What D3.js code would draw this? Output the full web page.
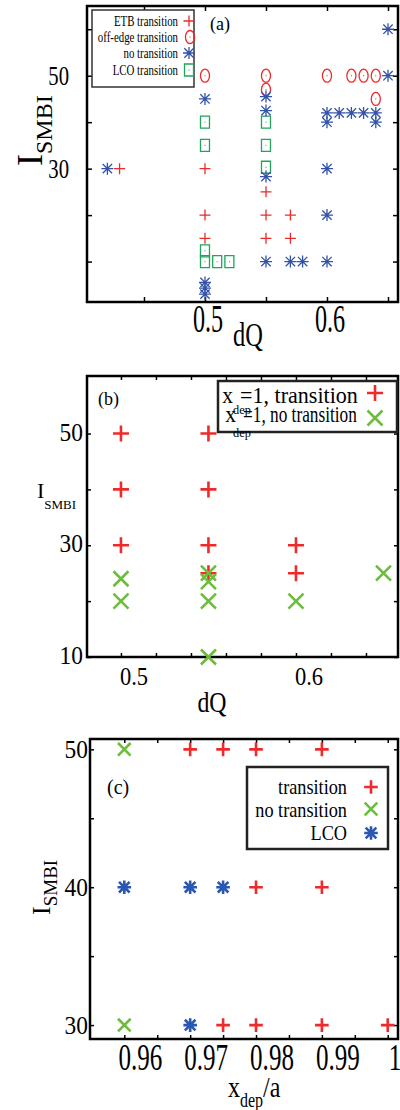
<!DOCTYPE html>
<html><head><meta charset="utf-8">
<script src="https://cdn.jsdelivr.net/npm/d3@7"></script>
<style>body{margin:0;background:#fff}svg{display:block}</style>
</head><body><svg id="c" width="400" height="1110" font-family="Liberation Serif, DejaVu Serif, serif"></svg>
<script>
// ===== Panel (a) data: dQ vs I_SMBI =====
const aEtbDQ = [0.43, 0.5, 0.5, 0.5, 0.55, 0.55, 0.55, 0.57, 0.57];
const aEtbI  = [30, 30, 20, 15, 25, 20, 15, 20, 15];
const aOffDQ = [0.5, 0.55, 0.55, 0.6, 0.62, 0.63, 0.64, 0.64];
const aOffI  = [50, 50, 47, 50, 50, 50, 50, 45];
const aNoDQ  = [0.42, 0.5, 0.5, 0.5, 0.5, 0.55, 0.55, 0.55, 0.55, 0.57, 0.58, 0.6, 0.6, 0.6, 0.6, 0.6, 0.61, 0.62, 0.63, 0.64, 0.64, 0.65, 0.65];
const aNoI   = [30, 45, 5.5, 4.3, 3, 45.5, 42.5, 28.3, 10, 10, 10, 42, 40, 30, 20, 10, 42, 42, 42, 42, 40, 60, 50];
const aLcoDQ = [0.5, 0.5, 0.5, 0.5, 0.51, 0.52, 0.55, 0.55, 0.55];
const aLcoI  = [40, 35, 12.3, 10, 10, 10, 40, 35, 30.3];
const aXTicks = [0.45, 0.5, 0.55, 0.6, 0.65];
const aXLabels = [0.5, 0.6];
const aYTicks = [10, 20, 30, 40, 50, 60];
const aYLabels = [30, 50];
const aLegend = ["ETB transition", "off-edge transition", "no transition", "LCO transition"];

// ===== Panel (b) data =====
const bTrDQ = [0.5, 0.5, 0.5, 0.55, 0.55, 0.55, 0.55, 0.6, 0.6];
const bTrI  = [50, 40, 30, 50, 40, 30, 25, 30, 25];
const bNoDQ = [0.5, 0.5, 0.55, 0.55, 0.55, 0.55, 0.6, 0.65];
const bNoI  = [24, 20, 25, 23.5, 20, 10, 20, 25];
const bXTicks = [0.5, 0.52, 0.54, 0.56, 0.58, 0.6, 0.62, 0.64];
const bXLabels = [0.5, 0.6];
const bYTicks = [10, 20, 30, 40, 50];
const bYLabels = [10, 30, 50];

// ===== Panel (c) data: x_dep/a vs I_SMBI =====
const cTrX  = [0.97, 0.975, 0.98, 0.99, 0.98, 0.99, 0.975, 0.98, 0.99, 1.0];
const cTrI  = [50, 50, 50, 50, 40, 40, 30, 30, 30, 30];
const cNoX  = [0.96, 0.96];
const cNoI  = [50, 30];
const cLcoX = [0.96, 0.97, 0.975, 0.97];
const cLcoI = [40, 40, 40, 30];
const cXTicks = [0.96, 0.965, 0.97, 0.975, 0.98, 0.985, 0.99, 0.995, 1.0];
const cXLabels = [0.96, 0.97, 0.98, 0.99, 1];
const cYTicks = [30, 35, 40, 45, 50];
const cYLabels = [30, 40, 50];
const cLegend = ["transition", "no transition", "LCO"];

const RED = "#ee2a2a", BLUE = "#3353a8", GREEN = "#21a45c", LGREEN = "#6cbd3c", CBLUE = "#2a58b0";
const FONT = "Liberation Serif, DejaVu Serif, serif";

const svg = d3.select("#c");

function txt(g, x, y, s, size, sx, anchor) {
  return g.append("text")
    .attr("transform", `translate(${x},${y}) scale(${sx},1)`)
    .attr("font-family", FONT).attr("fill", "#000")
    .attr("font-size", size).attr("text-anchor", anchor || "start").text(s);
}

const SHAPES = {
  plus: r => `M${-r},0H${r}M0,${-r}V${r}`,
  cross: r => `M${-r},${-r}L${r},${r}M${-r},${r}L${r},${-r}`,
  star: r => { const d = r * 0.78; return `M${-r},0H${r}M0,${-r}V${r}M${-d},${-d}L${d},${d}M${-d},${d}L${d},${-d}`; },
  ellipse: r => { const rx = r * 0.7, ry = r; return `M${-rx},0A${rx},${ry} 0 1,0 ${rx},0A${rx},${ry} 0 1,0 ${-rx},0M-0.4,0h0.8`; },
  box: r => { const w = r * 0.75, h = r; return `M${-w},${-h}H${w}V${h}H${-w}ZM-0.4,0h0.8`; }
};

function marks(g, xs, ys, x, y, kind, color, r, sw) {
  g.append("g").selectAll("path").data(xs.map((v, i) => [v, ys[i]])).join("path")
    .attr("transform", d => `translate(${x(d[0])},${y(d[1])})`)
    .attr("d", SHAPES[kind](r)).attr("fill", "none")
    .attr("stroke", color).attr("stroke-width", sw);
}
function mark1(g, px, py, kind, color, r, sw) {
  g.append("path").attr("transform", `translate(${px},${py})`).attr("d", SHAPES[kind](r))
    .attr("fill", "none").attr("stroke", color).attr("stroke-width", sw);
}

function axesFrame(g, x, y, xt, yt, len, lw) {
  const [x0, x1] = x.range(), [y0, y1] = y.range();
  const style = s => { s.select(".domain").remove(); s.selectAll("line").attr("stroke", "#000").attr("stroke-width", 1.5); s.selectAll("text").remove(); };
  g.append("g").attr("transform", `translate(0,${y0})`).call(d3.axisBottom(x).tickValues(xt).tickSizeInner(-len).tickSizeOuter(0)).call(style);
  g.append("g").attr("transform", `translate(0,${y1})`).call(d3.axisTop(x).tickValues(xt).tickSizeInner(-len).tickSizeOuter(0)).call(style);
  g.append("g").attr("transform", `translate(${x0},0)`).call(d3.axisLeft(y).tickValues(yt).tickSizeInner(-len).tickSizeOuter(0)).call(style);
  g.append("g").attr("transform", `translate(${x1},0)`).call(d3.axisRight(y).tickValues(yt).tickSizeInner(-len).tickSizeOuter(0)).call(style);
  g.append("rect").attr("x", x0).attr("y", y1).attr("width", x1 - x0).attr("height", y0 - y1)
    .attr("fill", "none").attr("stroke", "#000").attr("stroke-width", lw);
}
function subLabel(g, transform, main, sub, fMain, fSub, dy, tail) {
  const t = g.append("text").attr("transform", transform).attr("font-family", FONT).attr("fill", "#000");
  t.append("tspan").attr("font-size", fMain).text(main);
  t.append("tspan").attr("font-size", fSub).attr("dy", dy).text(sub);
  if (tail) t.append("tspan").attr("font-size", fMain).attr("dy", -dy).text(tail);
  return t;
}

// ================= Panel (a) =================
{
  const g = svg.append("g");
  const x = d3.scaleLinear().domain([0.4033, 0.6582]).range([87, 398]);
  const y = d3.scaleLinear().domain([1.3, 65]).range([302, 6]);
  axesFrame(g, x, y, aXTicks, aYTicks, 5, 2.5);
  aYLabels.forEach(v => txt(g, 69, y(v) + 9.5, String(v), 28, 0.74, "end"));
  aXLabels.forEach(v => txt(g, x(v) + 3, 332, String(v), 39, 0.62, "middle"));
  txt(g, 248, 346, "dQ", 34, 0.72, "middle");
  subLabel(g, "translate(42,166) rotate(-90)", "I", "SMBI", 36, 24, 10);
  txt(g, 210, 30, "(a)", 19, 0.95, "start");

  marks(g, aLcoDQ, aLcoI, x, y, "box", GREEN, 6, 1.3);
  marks(g, aOffDQ, aOffI, x, y, "ellipse", RED, 6.5, 1.3);
  marks(g, aNoDQ, aNoI, x, y, "star", BLUE, 6, 1.3);
  marks(g, aEtbDQ, aEtbI, x, y, "plus", RED, 5.5, 1.3);

  g.append("rect").attr("x", 92).attr("y", 10).attr("width", 102).attr("height", 77)
    .attr("fill", "#fff").attr("stroke", "#333").attr("stroke-width", 1.5);
  const ly = [26, 42, 58, 75];
  aLegend.forEach((s, i) => txt(g, 178, ly[i], s, 15.5, 0.7, "end"));
  mark1(g, 189, 21, "plus", RED, 5.5, 1.3);
  mark1(g, 190, 37, "ellipse", RED, 6.5, 1.3);
  mark1(g, 189, 53, "star", BLUE, 6, 1.3);
  mark1(g, 189, 70, "box", GREEN, 6, 1.3);
}

// ================= Panel (b) =================
{
  const g = svg.append("g");
  const x = d3.scaleLinear().domain([0.4806, 0.6583]).range([87, 398]);
  const y = d3.scaleLinear().domain([10, 60.3]).range([657, 376]);
  axesFrame(g, x, y, bXTicks, bYTicks, 4, 2.5);
  bYLabels.forEach(v => txt(g, 83, y(v) + 7, String(v), 26, 0.9, "end"));
  bXLabels.forEach(v => txt(g, x(v) + 13, 685, String(v), 25, 0.9, "middle"));
  txt(g, 212, 712, "dQ", 29, 0.82, "middle");
  subLabel(g, "translate(37,498)", "I", "SMBI", 22, 13, 11);
  txt(g, 98, 405, "(b)", 18, 1, "start");

  marks(g, bTrDQ, bTrI, x, y, "plus", RED, 8, 2.6);
  marks(g, bNoDQ, bNoI, x, y, "cross", LGREEN, 7.5, 2.6);

  g.append("rect").attr("x", 218).attr("y", 381).attr("width", 179).attr("height", 51)
    .attr("fill", "#fff").attr("stroke", "#222").attr("stroke-width", 2.5);
  txt(g, 233, 403, "x", 24, 0.9, "end");
  txt(g, 240, 403, "=1, transition", 24, 0.92, "start");
  txt(g, 233, 414, "dep", 13, 0.95, "start");
  txt(g, 236, 422, "x", 24, 0.9, "end");
  txt(g, 243, 422, "=1, no transition", 24, 0.72, "start");
  txt(g, 233, 437, "dep", 13, 0.95, "start");
  mark1(g, 375, 393, "plus", RED, 8, 2.6);
  mark1(g, 375, 418, "cross", LGREEN, 7.5, 2.6);
}

// ================= Panel (c) =================
{
  const g = svg.append("g");
  const x = d3.scaleLinear().domain([0.95479, 1.00156]).range([90, 398]);
  const y = d3.scaleLinear().domain([28.99, 50.75]).range([1039, 739]);
  axesFrame(g, x, y, cXTicks, cYTicks, 4, 2.5);
  cYLabels.forEach(v => txt(g, 88, y(v) + 8.5, String(v), 26, 0.9, "end"));
  cXLabels.forEach(v => txt(g, Math.min(x(v) + 16, 395), 1070, String(v), 38, 0.66, "middle"));
  subLabel(g, "translate(228,1097) scale(0.8,1)", "x", "dep", 30, 20, 10, "/a");
  subLabel(g, "translate(50,915) rotate(-90)", "I", "SMBI", 26, 19, 7);
  txt(g, 107, 794, "(c)", 20, 1, "start");

  marks(g, cTrX, cTrI, x, y, "plus", RED, 6.8, 2.6);
  marks(g, cNoX, cNoI, x, y, "cross", LGREEN, 6.3, 2.6);
  marks(g, cLcoX, cLcoI, x, y, "star", CBLUE, 6.8, 2.6);

  g.append("rect").attr("x", 247).attr("y", 767).attr("width", 141).attr("height", 82)
    .attr("fill", "#fff").attr("stroke", "#222").attr("stroke-width", 2.5);
  const ly = [794, 817, 840];
  cLegend.forEach((s, i) => txt(g, 347, ly[i], s, 22, 0.83, "end"));
  mark1(g, 371, 787, "plus", RED, 6.8, 2.6);
  mark1(g, 371, 809, "cross", LGREEN, 6.3, 2.6);
  mark1(g, 371, 833, "star", CBLUE, 6.8, 2.6);
}
</script></body></html>
